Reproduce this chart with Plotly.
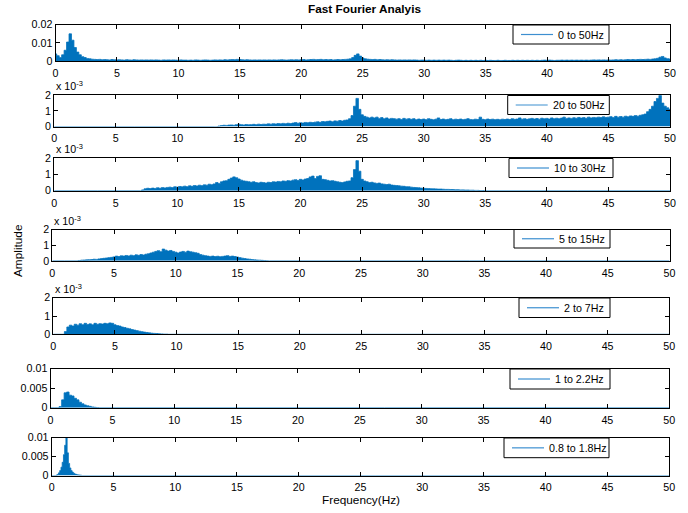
import numpy as np
import plotly.graph_objects as go

# ---------------- data (amplitudes, in units of 1e-3) ----------------
legend_names = ["0 to 50Hz", "20 to 50Hz", "10 to 30Hz", "5 to 15Hz",
                "2 to 7Hz", "1 to 2.2Hz", "0.8 to 1.8Hz"]
x_tick_vals = [0, 5, 10, 15, 20, 25, 30, 35, 40, 45, 50]

# panel 1: 0 to 50 Hz, sampled every 0.2 Hz from 0
amp1_start, amp1_step = 0.0, 0.2
amp1 = [
    4.0, 3.0, 2.0, 3.5, 6.0,   10.5, 15.0, 11.5, 7.5, 5.0,   3.5, 2.5, 2.0, 1.5, 1.3,
    1.1, 1.0, 0.9, 1.0, 0.8,   0.9, 0.8, 0.7, 0.9, 0.8,   0.7, 0.8, 0.7, 0.6, 0.8,
    0.7, 0.6, 0.8, 0.7, 0.6,   0.7, 0.6, 0.7, 0.6, 0.7,   0.6, 0.7, 0.6, 0.5, 0.7,
    0.6, 0.7, 0.6, 0.7, 0.6,   0.5, 0.7, 0.6, 0.6, 0.5,   0.6, 0.5, 0.7, 0.6, 0.5,
    0.6, 0.7, 0.6, 0.5, 0.6,   0.7, 0.6, 0.7, 0.6, 0.8,   0.7, 0.8, 0.9, 0.8, 1.0,
    0.9, 0.8, 0.7, 0.8, 0.7,   0.6, 0.7, 0.6, 0.7, 0.6,   0.7, 0.6, 0.7, 0.6, 0.7,
    0.6, 0.7, 0.8, 0.7, 0.6,   0.7, 0.8, 0.7, 0.8, 0.7,   0.8, 0.9, 0.7, 0.8, 0.9,
    1.0, 0.8, 0.9, 1.0, 0.8,   0.9, 0.8, 0.9, 0.7, 0.8,   0.9, 0.8, 0.9, 1.0, 1.1,
    1.3, 2.0, 3.2, 4.0, 2.8,   1.8, 1.3, 1.1, 1.0, 0.9,   1.0, 0.8, 0.9, 0.8, 0.7,
    0.8, 0.7, 0.8, 0.7, 0.6,   0.7, 0.6, 0.7, 0.6, 0.7,   0.6, 0.7, 0.6, 0.5, 0.6,
    0.6, 0.5, 0.6, 0.5, 0.6,   0.5, 0.6, 0.5, 0.6, 0.5,   0.6, 0.5, 0.4, 0.5, 0.6,
    0.5, 0.4, 0.5, 0.4, 0.5,   0.4, 0.5, 0.4, 0.5, 0.4,   0.5, 0.4, 0.5, 0.4, 0.4,
    0.5, 0.4, 0.4, 0.5, 0.4,   0.4, 0.5, 0.4, 0.5, 0.4,   0.5, 0.4, 0.5, 0.4, 0.5,
    0.4, 0.5, 0.4, 0.5, 0.6,   0.5, 0.6, 0.5, 0.4, 0.5,   0.5, 0.6, 0.5, 0.6, 0.5,
    0.6, 0.5, 0.6, 0.5, 0.6,   0.5, 0.6, 0.5, 0.6, 0.7,   0.6, 0.7, 0.6, 0.7, 0.6,
    0.7, 0.6, 0.7, 0.8, 0.7,   0.8, 0.7, 0.8, 0.9, 0.8,   0.9, 0.8, 0.9, 1.0, 0.9,
    1.0, 1.1, 1.0, 1.2, 1.3,   1.6, 2.2, 2.6, 1.8, 1.4,
    1.2,
]

# panel 2: 20 to 50 Hz band, from 13 Hz
amp2_start, amp2_step = 13.0, 0.2
amp2 = [
    0.0, 0.0, 0.03, 0.06, 0.08,   0.07, 0.09, 0.1, 0.08, 0.12,
    0.15, 0.12, 0.1, 0.13, 0.11,   0.12, 0.14, 0.12, 0.15, 0.13,
    0.15, 0.14, 0.17, 0.15, 0.18,   0.16, 0.19, 0.17, 0.2, 0.18,
    0.21, 0.19, 0.22, 0.25, 0.21,   0.24, 0.22, 0.26, 0.24, 0.27,
    0.25, 0.28, 0.3, 0.27, 0.32,   0.3, 0.33, 0.35, 0.31, 0.36,
    0.34, 0.38, 0.35, 0.4, 0.42,   0.5, 0.7, 1.3, 1.8, 1.1,
    0.75, 0.65, 0.6, 0.55, 0.6,   0.55, 0.6, 0.52, 0.57, 0.5,
    0.55, 0.48, 0.52, 0.5, 0.47,   0.5, 0.45, 0.52, 0.47, 0.5,
    0.46, 0.5, 0.44, 0.48, 0.45,   0.48, 0.44, 0.5, 0.46, 0.43,
    0.47, 0.55, 0.45, 0.48, 0.44,   0.46, 0.5, 0.44, 0.47, 0.45,
    0.48, 0.44, 0.46, 0.5, 0.45,   0.43, 0.47, 0.45, 0.6, 0.46,
    0.44, 0.48, 0.45, 0.47, 0.44,   0.46, 0.43, 0.47, 0.45, 0.48,
    0.45, 0.5, 0.46, 0.48, 0.55,   0.47, 0.5, 0.46, 0.49, 0.52,
    0.48, 0.51, 0.47, 0.53, 0.5,   0.52, 0.48, 0.55, 0.5, 0.53,
    0.5, 0.54, 0.6, 0.52, 0.55,   0.52, 0.56, 0.53, 0.58, 0.54,
    0.57, 0.53, 0.6, 0.55, 0.58,   0.56, 0.6, 0.57, 0.62, 0.58,
    0.6, 0.63, 0.58, 0.65, 0.6,   0.64, 0.6, 0.66, 0.62, 0.68,
    0.65, 0.7, 0.66, 0.72, 0.75,   0.8, 0.95, 1.1, 1.3, 1.6,
    1.8, 2.0, 1.5, 1.3, 1.2,
    1.1,
]

# panel 3: 10 to 30 Hz band, from 7 Hz
amp3_start, amp3_step = 7.0, 0.2
amp3 = [
    0.0, 0.05, 0.12, 0.15, 0.13,   0.16, 0.14, 0.18, 0.15, 0.19,
    0.17, 0.2, 0.22, 0.19, 0.24,   0.22, 0.26, 0.24, 0.28, 0.25,
    0.3, 0.27, 0.32, 0.29, 0.34,   0.31, 0.36, 0.34, 0.4, 0.37,
    0.42, 0.5, 0.45, 0.55, 0.6,   0.62, 0.7, 0.78, 0.85, 0.8,
    0.72, 0.65, 0.6, 0.58, 0.55,   0.52, 0.55, 0.5, 0.48, 0.52,
    0.5, 0.47, 0.52, 0.5, 0.55,   0.53, 0.57, 0.55, 0.6, 0.58,
    0.62, 0.6, 0.65, 0.68, 0.63,   0.7, 0.66, 0.72, 0.75, 0.85,
    0.9, 0.75, 0.88, 0.92, 0.7,   0.68, 0.64, 0.6, 0.62, 0.58,
    0.55, 0.52, 0.5, 0.54, 0.58,   0.6, 0.8, 1.3, 1.85, 1.2,
    0.7, 0.6, 0.55, 0.5, 0.52,   0.48, 0.45, 0.47, 0.42, 0.4,
    0.38, 0.4, 0.35, 0.33, 0.32,   0.3, 0.28, 0.27, 0.25, 0.24,
    0.22, 0.2, 0.19, 0.18, 0.16,   0.15, 0.14, 0.13, 0.12, 0.12,
    0.11, 0.1, 0.1, 0.09, 0.08,   0.08, 0.07, 0.07, 0.06, 0.06,
    0.05, 0.05, 0.04, 0.04, 0.03,   0.03, 0.02, 0.02, 0.01, 0.01,
    0.0,
]

# panel 4: 5 to 15 Hz band, from 2 Hz
amp4_start, amp4_step = 2.0, 0.2
amp4 = [
    0.0, 0.02, 0.04, 0.05, 0.06,   0.07, 0.08, 0.1, 0.09, 0.12,
    0.14, 0.16, 0.18, 0.2, 0.22,   0.25, 0.3, 0.27, 0.32, 0.3,
    0.34, 0.31, 0.36, 0.33, 0.38,   0.35, 0.4, 0.37, 0.42, 0.45,
    0.5, 0.55, 0.6, 0.65, 0.58,   0.75, 0.68, 0.62, 0.66, 0.6,
    0.55, 0.5, 0.56, 0.6, 0.55,   0.62, 0.58, 0.55, 0.52, 0.48,
    0.4, 0.36, 0.33, 0.3, 0.28,   0.3, 0.27, 0.29, 0.26, 0.28,
    0.3, 0.33, 0.28, 0.3, 0.27,   0.24, 0.2, 0.17, 0.14, 0.12,
    0.1, 0.08, 0.06, 0.05, 0.04,   0.03, 0.02, 0.01, 0.0,
]

# panel 5: 2 to 7 Hz band, from 0.8 Hz
amp5_start, amp5_step = 0.8, 0.2
amp5 = [
    0.0, 0.15, 0.4, 0.5, 0.45, 0.55,
    0.5, 0.58, 0.52, 0.6, 0.54,   0.57, 0.52, 0.6, 0.55, 0.58,
    0.56, 0.6, 0.58, 0.62, 0.6,   0.52, 0.48, 0.45, 0.4, 0.37,
    0.33, 0.3, 0.26, 0.23, 0.2,   0.17, 0.14, 0.12, 0.1, 0.08,
    0.06, 0.05, 0.04, 0.03, 0.02,   0.01, 0.01, 0.0, 0.0,
]

# panel 6: 1 to 2.2 Hz band, from 0.6 Hz
amp6_start, amp6_step = 0.6, 0.2
amp6 = [0.0, 0.3, 2.0, 3.8, 4.0, 3.2, 3.0, 2.4, 2.0, 1.4, 1.0, 0.7,
        0.5, 0.35, 0.2, 0.1, 0.05, 0.0]

# panel 7: 0.8 to 1.8 Hz band, from 0.3 Hz, sampled every 0.1 Hz
amp7_start, amp7_step = 0.3, 0.1
amp7 = [0.0, 0.1, 0.3, 0.7, 1.3, 2.2, 3.5, 5.5, 8.0, 10.0, 6.0, 3.2, 2.0,
        1.3, 0.9, 0.6, 0.4, 0.3, 0.2, 0.15, 0.1, 0.05, 0.0]

series = [(amp1_start, amp1_step, amp1), (amp2_start, amp2_step, amp2),
          (amp3_start, amp3_step, amp3), (amp4_start, amp4_step, amp4),
          (amp5_start, amp5_step, amp5), (amp6_start, amp6_step, amp6),
          (amp7_start, amp7_step, amp7)]

# y-axis ticks per panel (real amplitude values) and their labels
y_tick_vals = [[0, 0.01, 0.02]] + [[0, 0.001, 0.002]] * 4 + [[0, 0.005, 0.01]] * 2
y_tick_text = [["0", "0.01", "0.02"]] + [["0", "1", "2"]] * 4 + [["0", "0.005", "0.01"]] * 2
y_max = [0.02, 0.002, 0.002, 0.002, 0.002, 0.01, 0.01]

# ---------------- layout geometry (pixels) ----------------
W, H = 688, 513
# (top, bottom, left, right) of each axes box
boxes = [(24.7, 61.2, 55.5, 670), (95.3, 126.5, 54.2, 670), (158.2, 190.7, 54.2, 670),
         (229.5, 260.8, 52.3, 669.5), (297.7, 334.3, 53.3, 669.2),
         (368.5, 407.7, 50.5, 669.2), (437.7, 475.5, 51.7, 669.2)]
# legend boxes (left, top, right, bottom)
legend_boxes = [(513, 25, 609, 44), (507.7, 95.5, 609.3, 114.5), (509, 158.5, 613, 177.5),
                (514, 229.5, 610, 248), (519, 298, 610, 317.5), (510, 369, 610, 389),
                (504, 438, 609, 457.7)]

BLUE = "#0072BD"
LEG_BLUE = "#3d8fd0"
FONT = "Liberation Sans, Arial, sans-serif"

fig = go.Figure()
for i, (start, step, vals) in enumerate(series):
    k = i + 1
    xs = start + step * np.arange(len(vals))
    ys = np.array(vals) * 1e-3
    if start > 0:
        xs = np.concatenate([[0.0], xs])
        ys = np.concatenate([[0.0], ys])
    if xs[-1] < 50:
        xs = np.concatenate([xs, [50.0]])
        ys = np.concatenate([ys, [0.0]])
    ax = "" if k == 1 else str(k)
    fig.add_trace(go.Scatter(x=xs, y=ys, mode="lines", fill="tozeroy",
                             fillcolor=BLUE, line=dict(color=BLUE, width=0.8, shape="hvh"),
                             xaxis="x" + ax, yaxis="y" + ax, showlegend=False,
                             name=legend_names[i], hoverinfo="skip"))

def px(x):
    return x / W

def py(y):
    return 1 - y / H

layout = dict(width=W, height=H, margin=dict(l=0, r=0, t=0, b=0, pad=0, autoexpand=False),
              paper_bgcolor="white", plot_bgcolor="white", showlegend=False,
              font=dict(family=FONT, size=10.7, color="black"),
              annotations=[], shapes=[])
for i, (top, bot, left, right) in enumerate(boxes):
    k = i + 1
    ax = "" if k == 1 else str(k)
    layout["xaxis" + ax] = dict(domain=[px(left), px(right)], range=[0, 50],
                                anchor="y" + ax, tickvals=x_tick_vals,
                                ticks="inside", ticklen=4, tickcolor="black",
                                showline=True, linecolor="black", linewidth=1,
                                mirror="ticks", showgrid=False, zeroline=False,
                                automargin=False, ticklabelstandoff=2,
                                tickfont=dict(size=10.7))
    layout["yaxis" + ax] = dict(domain=[py(bot), py(top)], range=[0, y_max[i]],
                                anchor="x" + ax, tickvals=y_tick_vals[i],
                                ticktext=y_tick_text[i],
                                ticks="inside", ticklen=4, tickcolor="black",
                                showline=True, linecolor="black", linewidth=1,
                                mirror="ticks", showgrid=False, zeroline=False,
                                automargin=False, tickfont=dict(size=10.7))
    # legend box drawn per axes
    L, T, R, B = legend_boxes[i]
    layout["shapes"].append(dict(type="rect", xref="paper", yref="paper",
                                 x0=px(L), x1=px(R), y0=py(B), y1=py(T),
                                 line=dict(color="black", width=1), fillcolor="white",
                                 layer="above"))
    yc = (T + B) / 2
    layout["shapes"].append(dict(type="line", xref="paper", yref="paper",
                                 x0=px(L + 8), x1=px(L + 40), y0=py(yc), y1=py(yc),
                                 line=dict(color=LEG_BLUE, width=1.2), layer="above"))
    layout["annotations"].append(dict(text=legend_names[i], x=px(L + 43), y=py(yc),
                                      xref="paper", yref="paper", xanchor="left",
                                      yanchor="middle", showarrow=False,
                                      font=dict(size=10.7)))
    if 2 <= k <= 5:
        layout["annotations"].append(dict(
            text="x 10<sup>-3</sup>", x=px(left), y=py(top - 1.0),
            xref="paper", yref="paper", xanchor="left", yanchor="bottom",
            showarrow=False, font=dict(size=10.7)))

layout["annotations"] += [
    dict(text="<b>Fast Fourier Analyis</b>", x=px(364), y=py(9.5), xref="paper",
         yref="paper", xanchor="center", yanchor="middle", showarrow=False,
         font=dict(size=11.8)),
    dict(text="Frequency(Hz)", x=px(361), y=py(500), xref="paper", yref="paper",
         xanchor="center", yanchor="middle", showarrow=False, font=dict(size=11.8)),
    dict(text="Amplitude", x=px(18), y=py(251), xref="paper", yref="paper",
         xanchor="center", yanchor="middle", textangle=-90, showarrow=False,
         font=dict(size=11.8)),
]
fig.update_layout(**layout)
fig.write_html("out.html", config={"displayModeBar": False},
               post_script="document.body.style.margin='0';document.body.style.overflow='hidden';")
